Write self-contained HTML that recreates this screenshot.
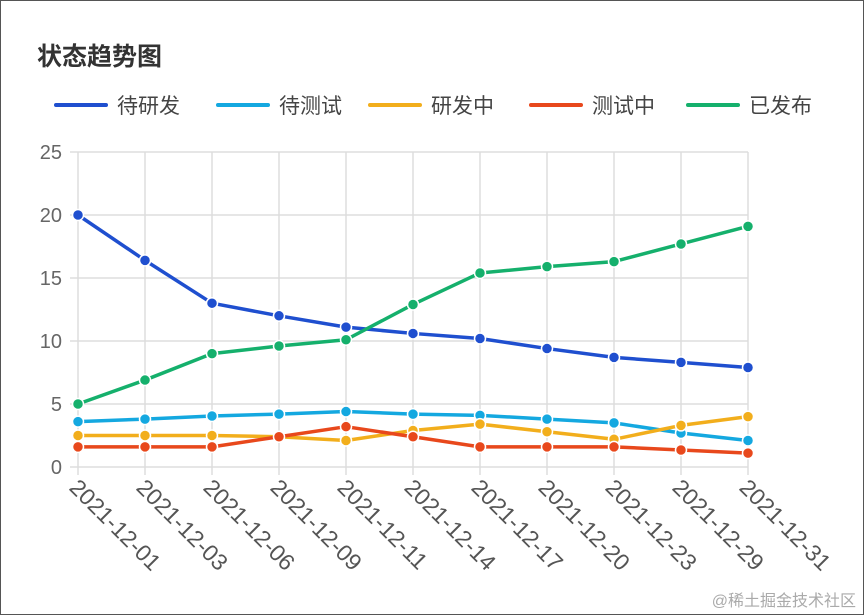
<!DOCTYPE html>
<html><head><meta charset="utf-8"><style>
body{margin:0;background:#fff}
#wrap{width:862px;height:613px;border:1px solid #555;position:relative;overflow:hidden;font-family:"Liberation Sans","Noto Sans CJK SC",sans-serif}
</style></head><body>
<div id="wrap">
<svg id="chart" width="862" height="613"></svg>
</div>
<script>
const categories=["2021-12-01","2021-12-03","2021-12-06","2021-12-09","2021-12-11","2021-12-14","2021-12-17","2021-12-20","2021-12-23","2021-12-29","2021-12-31"];
const seriesNames=["待研发","待测试","研发中","测试中","已发布"];
const seriesColors=["#1f4fcf","#14a8e0","#f2ae1c","#e8481c","#15b06c"];
const dev=[20,16.4,13,12,11.1,10.6,10.2,9.4,8.7,8.3,7.9];
const test=[3.6,3.8,4.05,4.2,4.4,4.2,4.1,3.8,3.5,2.7,2.1];
const developing=[2.5,2.5,2.5,2.4,2.1,2.9,3.4,2.8,2.2,3.3,4.0];
const testing=[1.6,1.6,1.6,2.4,3.2,2.4,1.6,1.6,1.6,1.35,1.1];
const released=[5,6.9,9,9.6,10.1,12.9,15.4,15.9,16.3,17.7,19.1];
const yTicks=[0,5,10,15,20,25];
const allSeries=[dev,test,developing,testing,released];
const NS="http://www.w3.org/2000/svg";
const svg=document.getElementById('chart');
const x0=77,x1=747,y0=466,y1=151,ymax=25;
function xs(i){return x0+(x1-x0)*i/(categories.length-1);}
function ys(v){return y0-(y0-y1)*v/ymax;}
function mk(t,a){const e=document.createElementNS(NS,t);for(const k in a)e.setAttribute(k,a[k]);svg.appendChild(e);return e;}
let t=mk('text',{x:36,y:64,'font-size':25,fill:'#333','font-weight':'bold'});t.textContent="状态趋势图";


const lx=[55,217,369,530,687];
seriesNames.forEach((n,i)=>{
 const g=mk('g',{});
 
 
 const l=document.createElementNS(NS,'line');
 l.setAttribute('x1',lx[i]);l.setAttribute('x2',lx[i]+50);l.setAttribute('y1',104);l.setAttribute('y2',104);
 l.setAttribute('stroke',seriesColors[i]);l.setAttribute('stroke-width',4);l.setAttribute('stroke-linecap','round');
 g.appendChild(l);
 const tx=document.createElementNS(NS,'text');
 tx.setAttribute('x',lx[i]+61);tx.setAttribute('y',112);tx.setAttribute('font-size',21);tx.setAttribute('fill','#444');
 tx.textContent=n;g.appendChild(tx);
});
yTicks.forEach(v=>{
 const l=mk('line',{x1:x0-8,x2:x1,y1:ys(v),y2:ys(v),stroke:'#ddd','stroke-width':1.5});
 
 
 const tx=mk('text',{x:x0-16,y:ys(v)+7,'font-size':20,fill:'#666','text-anchor':'end'});
 tx.textContent=v;
 
 
});
categories.forEach((c,i)=>{
 const l=mk('line',{x1:xs(i),x2:xs(i),y1:y1,y2:y0+8,stroke:'#ddd','stroke-width':1.5});
 
 
 const px=xs(i)+2,py=y0+10;
 const tx=mk('text',{x:px,y:py,'font-size':23,fill:'#555',transform:`rotate(45 ${px} ${py})`,'dominant-baseline':'hanging'});
 tx.textContent=c;
 
 
});
allSeries.forEach((s,k)=>{
 const p=mk('polyline',{points:s.map((v,i)=>xs(i)+','+ys(v)).join(' '),fill:'none',stroke:seriesColors[k],'stroke-width':3.5,'stroke-linejoin':'round'});
 
 
 s.forEach((v,i)=>{
  const c=mk('circle',{cx:xs(i),cy:ys(v),r:5.5,fill:seriesColors[k],stroke:'#fff','stroke-width':1.5});
  
  
 });
});
t=mk('text',{x:855,y:605,'font-size':16,fill:'#aaa','text-anchor':'end'});t.textContent="@稀土掘金技术社区";


</script>
</body></html>
